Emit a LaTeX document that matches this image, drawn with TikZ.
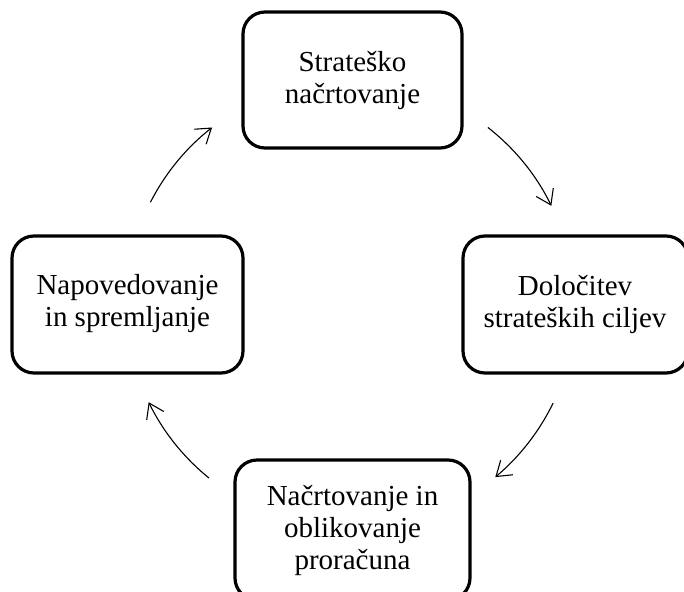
\documentclass[tikz,border=0pt]{standalone}
\usepackage{fontspec}
\setmainfont{Liberation Serif}
\usetikzlibrary{arrows.meta,calc}
\tikzset{
  stage/.style={draw, line width=3.2pt, rounded corners=22pt},
  stagetext/.style={align=center, font=\fontsize{29}{32}\selectfont},
  cyc/.style={line width=1.1pt, -{Straight Barb[length=14pt,width=19pt,line width=1.1pt]}},
}
\begin{document}
\begin{tikzpicture}[x=1pt,y=-1pt]
\useasboundingbox (0,0) rectangle (684,591);
% four stages, clipped at the page edge
\begin{scope}
\clip (0,0) rectangle (684,591);
\draw[stage] (243,12) rectangle (462,148);
\draw[stage] (463,236) rectangle (688,373);
\draw[stage] (235,460) rectangle (470,600);
\draw[stage] (12,236) rectangle (243,373);
\end{scope}
\node[stagetext] (plan) at (352.5,80) {Strateško\\načrtovanje};
\node[stagetext] (goals) at (575,304) {Določitev\\strateških ciljev};
\node[stagetext] (budget) at (352.5,530) {Načrtovanje in\\oblikovanje\\proračuna};
\node[stagetext] (watch) at (127.5,304) {Napovedovanje\\in spremljanje};
% circular flow between the stages (y axis points down, so angles are negated)
\coordinate (hub) at (350,304);
\draw[cyc] ($(hub)+(-153:224)$) arc[start angle=-153, end angle=-128, radius=224];
\draw[cyc] ($(hub)+(-52:224)$) arc[start angle=-52, end angle=-26, radius=224];
\draw[cyc] ($(hub)+(26:226)$) arc[start angle=26, end angle=50, radius=226];
\draw[cyc] ($(hub)+(129:224)$) arc[start angle=129, end angle=154, radius=224];
\end{tikzpicture}
\end{document}
